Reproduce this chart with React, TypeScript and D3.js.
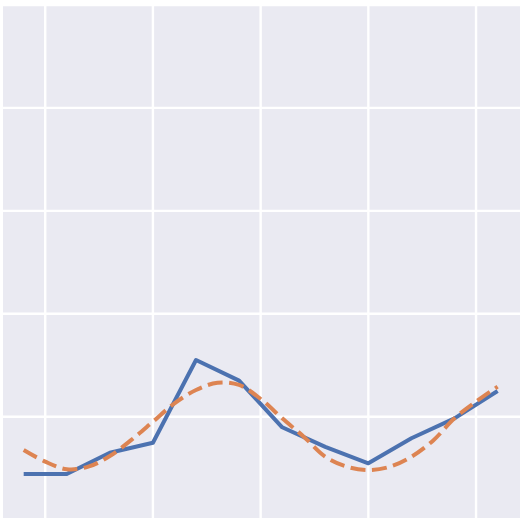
import React, { useRef, useEffect } from "react";
import * as d3 from "d3";

// observed series, one point per step
const blueX = [0, 1, 2, 3, 4, 5, 6, 7, 8, 9, 10, 11];
const blueY = [-0.557, -0.557, -0.35, -0.253, 0.551, 0.35, -0.103, -0.294, -0.453, -0.21, -0.016, 0.25];

// smoothed series, read at half steps
const orangeX = [0, 0.5, 1, 1.5, 2, 2.5, 3, 3.5, 4, 4.5, 5, 5.5, 6, 6.5, 7, 7.5, 8, 8.5, 9, 9.5, 10, 10.5, 11];
const orangeY = [
  -0.324, -0.437, -0.511, -0.486, -0.382, -0.226, -0.049, 0.13, 0.259, 0.33, 0.308, 0.172,
  -0.016, -0.194, -0.389, -0.486, -0.518, -0.486, -0.389, -0.233, -0.016, 0.146, 0.292,
];

const xTicks = [0.5, 3, 5.5, 8, 10.5];
const yTicks = [-1, 0, 1, 2, 3, 4];

const W = 522;
const H = 518;

const App = () => {
  const svgRef = useRef<SVGSVGElement>(null);

  useEffect(() => {
    const svg = d3.select(svgRef.current);
    svg.selectAll("*").remove();

    const left = 3, right = 520, top = 5, bottom = 519.6;

    const x = d3.scaleLinear().domain([-0.48, 11.52]).range([left, right]);
    const y = d3.scaleLinear().domain([4, -1]).range([top, bottom]);

    svg.append("defs")
      .append("clipPath")
      .attr("id", "plotclip")
      .append("rect")
      .attr("x", left)
      .attr("y", top)
      .attr("width", right - left)
      .attr("height", bottom - top);

    const g = svg.append("g").attr("clip-path", "url(#plotclip)");

    // background
    g.append("rect")
      .attr("x", left)
      .attr("y", top)
      .attr("width", right - left)
      .attr("height", bottom - top)
      .attr("fill", "#EAEAF2");

    // grid
    g.selectAll(".vgrid")
      .data(xTicks)
      .enter()
      .append("line")
      .attr("x1", (d) => x(d))
      .attr("x2", (d) => x(d))
      .attr("y1", top)
      .attr("y2", bottom)
      .attr("stroke", "white")
      .attr("stroke-width", 2.4);

    g.selectAll(".hgrid")
      .data(yTicks)
      .enter()
      .append("line")
      .attr("x1", left)
      .attr("x2", right)
      .attr("y1", (d) => y(d))
      .attr("y2", (d) => y(d))
      .attr("stroke", "white")
      .attr("stroke-width", 2.4);

    // blue line
    const blue = blueX.map((d, i) => [d, blueY[i]] as [number, number]);
    const line = d3.line<[number, number]>().x((d) => x(d[0])).y((d) => y(d[1]));
    g.append("path")
      .attr("d", line(blue))
      .attr("fill", "none")
      .attr("stroke", "#4C72B0")
      .attr("stroke-width", 4)
      .attr("stroke-linejoin", "round");

    // orange dashed curve
    const orange = orangeX.map((d, i) => [d, orangeY[i]] as [number, number]);
    const curve = d3
      .line<[number, number]>()
      .x((d) => x(d[0]))
      .y((d) => y(d[1]))
      .curve(d3.curveCatmullRom);
    g.append("path")
      .attr("d", curve(orange))
      .attr("fill", "none")
      .attr("stroke", "#DD8452")
      .attr("stroke-width", 4)
      .attr("stroke-dasharray", "15,6.5");
  }, []);

  return (
    <svg
      ref={svgRef}
      width={W}
      height={H}
      style={{ position: "absolute", left: 0, top: 0, background: "white", display: "block" }}
    ></svg>
  );
};

export default App;
